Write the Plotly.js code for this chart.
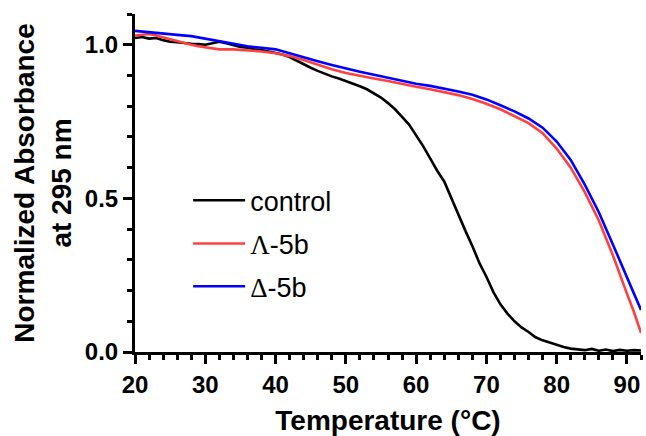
<!DOCTYPE html>
<html>
<head>
<meta charset="utf-8">
<script src="https://cdn.plot.ly/plotly-3.0.1.min.js"></script>
<style>html,body{margin:0;padding:0;background:#fff;}#chart{width:646px;height:436px;}</style>
</head>
<body>
<div id="chart"></div>
<script>
// Temperature (°C)
const tempControl = [20,21,22,23,24,25,26,27,28,29,30,31,32,33,34,35,36,37,38,39,40,41,42,43,44,45,46,47,48,49,50,51,52,53,54,55,56,57,58,59,60,61,62,63,64,65,66,67,68,69,70,71,72,73,74,75,76,77,78,79,80,81,82,83,84,85,86,87,88,89,90,91,92];
const absControl = [1.022,1.025,1.020,1.022,1.015,1.010,1.008,1.005,1.003,1.002,1.000,1.005,1.010,1.005,0.998,0.993,0.990,0.985,0.983,0.978,0.975,0.968,0.960,0.948,0.935,0.925,0.915,0.905,0.897,0.890,0.882,0.873,0.865,0.855,0.842,0.828,0.810,0.790,0.765,0.740,0.705,0.670,0.630,0.590,0.555,0.500,0.445,0.395,0.345,0.290,0.245,0.195,0.155,0.125,0.100,0.080,0.065,0.048,0.038,0.030,0.022,0.016,0.011,0.008,0.006,0.010,0.004,0.008,0.003,0.007,0.004,0.006,0.005];

const tempLambda = [20,21,22,23,24,25,26,27,28,29,30,32,34,36,38,40,42,44,46,48,50,52,54,56,58,60,62,64,66,68,70,72,74,76,78,80,82,84,86,88,90,91,92];
const absLambda = [1.030,1.033,1.035,1.030,1.025,1.018,1.012,1.005,1.000,0.995,0.992,0.985,0.985,0.982,0.978,0.972,0.963,0.950,0.935,0.920,0.908,0.898,0.890,0.882,0.872,0.863,0.855,0.846,0.836,0.823,0.808,0.790,0.768,0.745,0.712,0.662,0.600,0.520,0.428,0.315,0.190,0.130,0.062];

const tempDelta = [20,22,24,26,28,30,32,34,36,38,40,42,44,46,48,50,52,54,56,58,60,62,64,66,68,70,72,74,76,78,80,82,84,86,88,90,91,92];
const absDelta = [1.045,1.040,1.035,1.032,1.028,1.020,1.010,1.002,0.995,0.990,0.985,0.972,0.958,0.946,0.934,0.922,0.912,0.902,0.892,0.881,0.873,0.866,0.858,0.848,0.837,0.822,0.803,0.783,0.760,0.730,0.685,0.625,0.545,0.455,0.350,0.240,0.190,0.137];

const seriesNames = ['control', '<span style="font-family:\'Liberation Serif\'">Λ</span>-5b', '<span style="font-family:\'Liberation Serif\'">Δ</span>-5b'];
const seriesColors = ['#000000', '#ff4040', '#0000ff'];

const FONT = 'Liberation Sans, Arial, sans-serif';

const traces = [
  {x: tempControl, y: absControl, name: seriesNames[0], legend: 'legend'},
  {x: tempLambda, y: absLambda, name: seriesNames[1], legend: 'legend2'},
  {x: tempDelta, y: absDelta, name: seriesNames[2], legend: 'legend3'}
].map((t, i) => Object.assign(t, {
  type: 'scatter', mode: 'lines',
  line: {color: seriesColors[i], width: 2.6}
}));

const legendBase = {
  x: 0.105, xanchor: 'left', yanchor: 'middle',
  bgcolor: 'rgba(0,0,0,0)', borderwidth: 0,
  font: {family: FONT, size: 27, color: '#000'},
  itemwidth: 52
};

const layout = {
  width: 646, height: 436,
  margin: {l: 135, r: 5, t: 14, b: 84},
  paper_bgcolor: '#fff', plot_bgcolor: '#fff',
  showlegend: true,
  legend: Object.assign({}, legendBase, {y: 0.4476}),
  legend2: Object.assign({}, legendBase, {y: 0.3195}),
  legend3: Object.assign({}, legendBase, {y: 0.1932}),
  xaxis: {
    range: [20, 92], tickmode: 'linear', tick0: 20, dtick: 10,
    showline: true, linewidth: 3, linecolor: '#000',
    ticks: 'outside', ticklen: 9, tickwidth: 3, tickcolor: '#000',
    minor: {dtick: 2, ticks: 'outside', ticklen: 5, tickwidth: 3, tickcolor: '#000'},
    showgrid: false, zeroline: false,
    tickfont: {family: FONT, size: 24, weight: 'bold', color: '#000'},
    title: {text: 'Temperature (°C)', font: {family: FONT, size: 28, weight: 'bold', color: '#000'}, standoff: 20}
  },
  yaxis: {
    range: [0, 1.1], tickmode: 'linear', tick0: 0, dtick: 0.5, tickformat: '.1f',
    showline: true, linewidth: 3, linecolor: '#000',
    ticks: 'outside', ticklen: 9, tickwidth: 3, tickcolor: '#000',
    minor: {dtick: 0.1, ticks: 'outside', ticklen: 5, tickwidth: 3, tickcolor: '#000'},
    showgrid: false, zeroline: false,
    tickfont: {family: FONT, size: 24, weight: 'bold', color: '#000'},
    title: {text: 'Normalized Absorbance<br>at 295 nm', font: {family: FONT, size: 28, weight: 'bold', color: '#000'}, standoff: 6}
  }
};

Plotly.newPlot('chart', traces, layout, {displayModeBar: false, staticPlot: true});
</script>
</body>
</html>
